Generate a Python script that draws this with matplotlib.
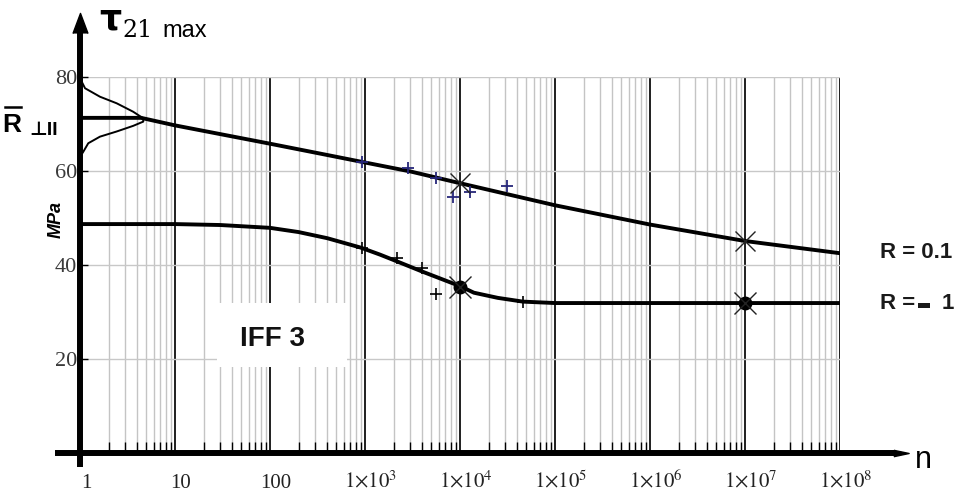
import numpy as np
import matplotlib
matplotlib.use("Agg")
import matplotlib.pyplot as plt
from matplotlib.transforms import blended_transform_factory, ScaledTranslation
from matplotlib.patches import Rectangle
from matplotlib.lines import Line2D

plt.rcParams['mathtext.fontset'] = 'stix'

# ---------------- data ----------------
# S-N mean curves
n_upper = [1, 4.4, 10, 100, 400, 1e3, 3e3, 1e4, 1e5, 1e6, 1e7, 1e8]
tau_upper = [71.2, 71.2, 69.6, 65.7, 63.3, 61.7, 59.8, 57.3, 52.6, 48.5, 45.0, 42.4]
n_lower = [1, 10, 30, 100, 200, 400, 900, 1440, 2150, 4000, 1e4, 1.4e4, 2.5e4, 4.6e4, 1e5, 1e8]
tau_lower = [48.6, 48.6, 48.4, 47.8, 46.9, 45.6, 43.6, 42.1, 40.7, 38.5, 35.4, 34.0, 32.9, 32.1, 31.8, 31.8]

# test points
n_test_R01 = [925, 2830, 5650, 8450, 12800, 31000]
tau_test_R01 = [61.9, 60.5, 58.3, 54.4, 55.5, 56.6]
n_test_Rm1 = [925, 2150, 3950, 5650, 46000]
tau_test_Rm1 = [43.5, 41.3, 39.2, 33.7, 32.1]

# highlighted points
n_mark_R01 = [1e4, 1e7]
tau_mark_R01 = [57.3, 45.0]
n_mark_Rm1 = [1e4, 1e7]
tau_mark_Rm1 = [35.3, 31.8]

# static strength scatter (distribution sketch): tau vs. decades of width
dist_tau = [79.2, 78.9, 77.5, 75.7, 74.3, 72.5, 71.1, 70.4, 69.5, 68.3, 67.2, 65.8, 64.0, 62.9]
dist_decades = [0.0, 0.018, 0.053, 0.21, 0.386, 0.56, 0.666, 0.666, 0.56, 0.386, 0.21, 0.087, 0.035, 0.0]

# ticks
xtick_vals = [1, 10, 100, 1e3, 1e4, 1e5, 1e6, 1e7, 1e8]
xtick_labels = ['1', '10', '100', r'$1{\times}10^{3}$', r'$1{\times}10^{4}$',
                r'$1{\times}10^{5}$', r'$1{\times}10^{6}$', r'$1{\times}10^{7}$',
                r'$1{\times}10^{8}$']
ytick_vals = [20, 40, 60, 80]
ytick_labels = ['20', '40', '60', '80']

# ---------------- figure ----------------
W, H = 962, 495
fig = plt.figure(figsize=(W / 100, H / 100), dpi=100)
fig.patch.set_facecolor('white')

X0, X1 = 80, 840      # pixel columns of n=1 and n=1e8
Y0, Y1 = 452.5, 76.5  # pixel rows of tau=0 and tau=80
ax = fig.add_axes([X0 / W, 1 - Y0 / H, (X1 - X0) / W, (Y0 - Y1) / H])
ax.set_xscale('log')
ax.set_xlim(1, 1e8)
ax.set_ylim(0, 80)
for s in ax.spines.values():
    s.set_visible(False)

ax.set_xticks(xtick_vals)
ax.set_xticks([m * 10 ** k for k in range(8) for m in range(2, 10)], minor=True)
ax.set_xticklabels([])
ax.set_xticklabels([], minor=True)
ax.tick_params(axis='x', which='major', length=0)
ax.tick_params(axis='x', which='minor', direction='in', length=8, width=1, color='black')
ax.set_yticks(ytick_vals)
ax.set_yticklabels(ytick_labels, fontsize=16, family='Liberation Serif', color='#3a3a3a')
ax.tick_params(axis='y', direction='in', length=6, width=1, pad=2)

ax.grid(which='minor', axis='x', color='#c4c4c4', lw=1.0)
ax.grid(which='major', axis='x', color='#1e1e1e', lw=1.4)
ax.grid(which='major', axis='y', color='#c8c8c8', lw=1.0)

# x tick labels (common baseline, slightly right of the lines)
tr = blended_transform_factory(ax.transData, ax.transAxes) + ScaledTranslation(6 / 100, 0, fig.dpi_scale_trans)
for v, lab in zip(xtick_vals, xtick_labels):
    ax.text(v, -(487.5 - Y0) / (Y0 - Y1), lab, transform=tr, ha='center', va='baseline',
            fontsize=15, family='Liberation Serif', color='#222222', clip_on=False)

# axes lines with arrows
def px2n(px):
    return 10 ** ((px - X0) / 95.0)

def py2t(py):
    return (Y0 - py) / 4.7

ax.plot([px2n(55), px2n(896)], [0, 0], color='k', lw=4.3, clip_on=False,
        solid_capstyle='butt', zorder=5)
ax.plot([1, 1], [py2t(467), py2t(30)], color='k', lw=4.3, clip_on=False,
        solid_capstyle='butt', zorder=5)
ax.plot([px2n(900.5)], [0], marker=[(-1, -0.42), (1, 0), (-1, 0.42)], ms=11, color='k',
        clip_on=False, zorder=6)
ax.plot([1], [py2t(23)], marker=[(-0.75, -1), (0, 1), (0.75, -1)], ms=14.5, color='k',
        clip_on=False, zorder=6)

# IFF 3 white label
ax.add_patch(Rectangle(((217 - X0) / 760, (Y0 - 367) / 376), 130 / 760, 64 / 376,
                       transform=ax.transAxes, facecolor='white', edgecolor='none', zorder=2))
ax.text((273 - X0) / 760, (Y0 - 338.5) / 376, 'IFF 3', transform=ax.transAxes,
        ha='center', va='center', fontsize=20, fontweight='bold', family='Liberation Sans',
        color='#111111', zorder=3)

# curves
ax.plot([10 ** d for d in dist_decades], dist_tau, color='k', lw=1.4, zorder=4, clip_on=False)
ax.plot(n_upper, tau_upper, color='k', lw=2.8, zorder=4, solid_joinstyle='round')
ax.plot(n_lower, tau_lower, color='k', lw=2.8, zorder=4, solid_joinstyle='round')

# markers
ax.plot(n_test_R01, tau_test_R01, ls='none', marker='+', ms=9, mew=1.3, color='#26267a', zorder=5)
ax.plot(n_test_Rm1, tau_test_Rm1, ls='none', marker='+', ms=9, mew=1.2, color='k', zorder=5)
ax.plot(n_mark_R01, tau_mark_R01, ls='none', marker='x', ms=15, mew=1.0, color='#222222', zorder=5)
ax.plot(n_mark_Rm1, tau_mark_Rm1, ls='none', marker='o', ms=9, color='k', zorder=5)
ax.plot(n_mark_Rm1, tau_mark_Rm1, ls='none', marker='x', ms=16, mew=1.0, color='#222222', zorder=5)

# figure texts (pixel placement)
def ftxt(x, y, s, **kw):
    return fig.text(x / W, 1 - y / H, s, **kw)

ftxt(99, 29, 'τ', ha='left', va='baseline', fontsize=25, fontweight='bold', family='DejaVu Sans')
ftxt(122, 37, '21', ha='left', va='baseline', fontsize=17, family='DejaVu Serif')
ftxt(162, 37, 'max', ha='left', va='baseline', fontsize=17, family='Liberation Sans')

ftxt(2, 132, 'R', ha='left', va='baseline', fontsize=19, fontweight='bold', family='Liberation Sans')
fig.add_artist(Line2D([5 / W, 21 / W], [1 - 107 / H, 1 - 107 / H], color='k', lw=1.8,
                      transform=fig.transFigure))
ftxt(29, 135, '⊥II', ha='left', va='baseline', fontsize=14, fontweight='bold',
     family=['Liberation Sans', 'DejaVu Sans'])
ftxt(56, 219, 'MPa', ha='center', va='center', rotation=90, fontsize=13, fontweight='bold',
     style='italic', family='Liberation Sans')

ftxt(923, 460, 'n', ha='center', va='center', fontsize=22, family='Liberation Sans')
ftxt(880, 252.5, 'R = 0.1', ha='left', va='center', fontsize=16, fontweight='bold',
     family='Liberation Sans', color='#1a1a1a')
ftxt(880, 303.5, 'R =', ha='left', va='center', fontsize=16, fontweight='bold',
     family='Liberation Sans', color='#1a1a1a')
ftxt(942, 303.5, '1', ha='left', va='center', fontsize=16, fontweight='bold',
     family='Liberation Sans', color='#1a1a1a')
fig.add_artist(Rectangle((918 / W, 1 - 308 / H), 12 / W, 5 / H, transform=fig.transFigure,
                         facecolor='#1a1a1a', edgecolor='none'))

fig.savefig('out.png', dpi=100, facecolor='white')
